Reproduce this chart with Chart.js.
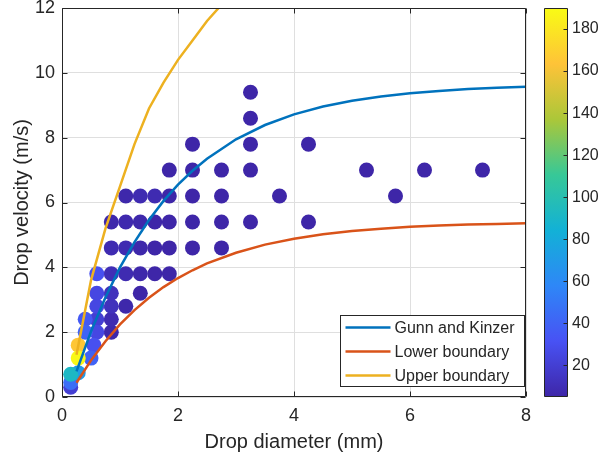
<!DOCTYPE html>
<html>
<head>
<meta charset="utf-8">
<script src="https://cdn.jsdelivr.net/npm/chart.js@4.4.1/dist/chart.umd.min.js"></script>
<style>
  html, body { margin: 0; padding: 0; background: #fff; }
</style>
</head>
<body>
<canvas id="myChart" width="601" height="460"></canvas>
<script>
// scatter: drop diameter (mm), velocity (m/s), number of drops (colour)
const diameter = [
  3.25, 3.25,
  2.25, 3.25, 4.25,
  1.85, 2.25, 2.75, 3.25, 5.25, 6.25, 7.25,
  1.1, 1.35, 1.6, 1.85, 2.25, 2.75, 3.75, 5.75,
  0.85, 1.1, 1.35, 1.6, 1.85, 2.25, 2.75, 3.25, 4.25,
  0.85, 1.1, 1.35, 1.6, 1.85, 2.25, 2.75,
  0.85, 1.1, 1.35, 1.6, 1.85,
  1.35, 1.1, 0.85, 0.85, 0.85, 0.85,
  0.15, 0.6, 0.6, 0.6, 0.6, 0.6, 0.55, 0.4, 0.5, 0.4, 0.15, 0.28, 0.15, 0.28, 0.28
];
const velocity = [
  9.4, 8.6,
  7.8, 7.8, 7.8,
  7.0, 7.0, 7.0, 7.0, 7.0, 7.0, 7.0,
  6.2, 6.2, 6.2, 6.2, 6.2, 6.2, 6.2, 6.2,
  5.4, 5.4, 5.4, 5.4, 5.4, 5.4, 5.4, 5.4, 5.4,
  4.6, 4.6, 4.6, 4.6, 4.6, 4.6, 4.6,
  3.8, 3.8, 3.8, 3.8, 3.8,
  3.2, 2.8, 2.0, 2.4, 2.8, 3.2,
  0.3, 2.4, 2.8, 3.2, 2.0, 3.8, 1.6, 2.4, 1.2, 2.0, 0.45, 0.75, 0.7, 1.6, 1.2
];
const dropCount = [
  3, 3,
  3, 3, 2,
  3, 4, 3, 3, 2, 2, 2,
  6, 8, 8, 4, 4, 3, 2, 2,
  6, 7, 6, 5, 4, 4, 3, 3, 2,
  8, 8, 6, 5, 4, 3, 3,
  10, 8, 6, 5, 4,
  5, 6, 6, 8, 12, 12,
  20, 20, 25, 25, 25, 30, 30, 35, 40, 40, 45, 70, 92, 165, 188
];

// model curves
const lineDiameter = [0.25, 0.5, 0.75, 1, 1.25, 1.5, 1.75, 2, 2.25, 2.5, 3, 3.5, 4, 4.5, 5, 5.5, 6, 6.5, 7, 7.5, 8];
const gunnKinzer = [0.79, 2.02, 3.08, 4.0, 4.78, 5.46, 6.05, 6.55, 6.98, 7.35, 7.95, 8.39, 8.72, 8.96, 9.14, 9.27, 9.37, 9.44, 9.5, 9.54, 9.57];
const lowerBoundary = [0.44, 1.13, 1.72, 2.24, 2.68, 3.06, 3.39, 3.67, 3.91, 4.12, 4.45, 4.7, 4.88, 5.02, 5.12, 5.19, 5.25, 5.29, 5.32, 5.34, 5.36];
const upperBoundary = [1.3, 3.6, 5.2, 6.5, 7.8, 8.9, 9.7, 10.4, 11.0, 11.6, 12.6, 13.4, 14.0, 14.4, 14.7, 14.9, 15.0, 15.1, 15.2, 15.25, 15.3];

const xTicks = [0, 2, 4, 6, 8];
const yTicks = [0, 2, 4, 6, 8, 10, 12];
const colorTicks = [20, 40, 60, 80, 100, 120, 140, 160, 180];
const colorLimits = [5, 190];

const FONT = '"Liberation Sans", Arial, Helvetica, sans-serif';
const axisColor = '#262626';

// parula colormap
const parulaStops = [
  [62, 38, 168], [72, 82, 244], [46, 135, 247], [18, 177, 214],
  [55, 200, 151], [171, 199, 57], [254, 195, 56], [249, 251, 21]
];
function parula(c) {
  let t = (c - colorLimits[0]) / (colorLimits[1] - colorLimits[0]);
  t = Math.min(1, Math.max(0, t)) * (parulaStops.length - 1);
  const i = Math.min(Math.floor(t), parulaStops.length - 2);
  const f = t - i;
  const a = parulaStops[i], b = parulaStops[i + 1];
  const m = k => Math.round(a[k] + (b[k] - a[k]) * f);
  return 'rgb(' + m(0) + ',' + m(1) + ',' + m(2) + ')';
}

const points = diameter.map((d, i) => ({ x: d, y: velocity[i] }));
const pointColors = dropCount.map(parula);

function curve(vals) {
  return lineDiameter.map((d, i) => ({ x: d, y: vals[i] }));
}

// box, inner ticks
const axesBox = {
  id: 'axesBox',
  afterDatasetsDraw(chart) {
    const ctx = chart.ctx;
    const a = chart.chartArea;
    const sx = chart.scales.x, sy = chart.scales.y;
    const L = Math.round(a.left) + 0.5, R = Math.round(a.right) - 0.5;
    const T = Math.round(a.top) + 0.5, B = Math.round(a.bottom) - 0.5;
    ctx.save();
    ctx.strokeStyle = axisColor;
    ctx.lineWidth = 1;
    ctx.beginPath();
    ctx.rect(L, T, R - L, B - T);
    xTicks.forEach(v => {
      const px = Math.round(sx.getPixelForValue(v)) + 0.5;
      ctx.moveTo(px, B); ctx.lineTo(px, B - 5);
      ctx.moveTo(px, T); ctx.lineTo(px, T + 5);
    });
    yTicks.forEach(v => {
      const py = Math.round(sy.getPixelForValue(v)) + 0.5;
      ctx.moveTo(L, py); ctx.lineTo(L + 5, py);
      ctx.moveTo(R, py); ctx.lineTo(R - 5, py);
    });
    ctx.stroke();
    ctx.restore();
  }
};

// legend inside the axes, lower right
const legendBox = {
  id: 'legendBox',
  afterDatasetsDraw(chart) {
    const ctx = chart.ctx;
    const a = chart.chartArea;
    const items = chart.data.datasets.filter(d => d.type === 'line');
    ctx.save();
    ctx.font = '16px ' + FONT;
    const textW = Math.max(...items.map(d => ctx.measureText(d.label).width));
    const w = Math.round(54 + textW + 10), h = 71;
    const x0 = Math.round(a.right) - 2 - w + 0.5;
    const y0 = Math.round(a.bottom) - 11 - h + 0.5;
    ctx.fillStyle = '#fff';
    ctx.fillRect(x0, y0, w, h);
    ctx.strokeStyle = axisColor;
    ctx.lineWidth = 1;
    ctx.strokeRect(x0, y0, w, h);
    items.forEach((d, i) => {
      const y = y0 + 12 + i * 24;
      ctx.strokeStyle = d.borderColor;
      ctx.lineWidth = d.borderWidth;
      ctx.beginPath();
      ctx.moveTo(x0 + 5, y);
      ctx.lineTo(x0 + 50, y);
      ctx.stroke();
      ctx.fillStyle = axisColor;
      ctx.textBaseline = 'middle';
      ctx.textAlign = 'left';
      ctx.fillText(d.label, x0 + 54, y + 1);
    });
    ctx.restore();
  }
};

// colour bar next to the axes
const colorBar = {
  id: 'colorBar',
  afterDraw(chart) {
    const ctx = chart.ctx;
    const cb = chart.scales.cb;
    const left = Math.round(chart.chartArea.right) + 18 + 0.5;
    const width = 23;
    const top = Math.round(cb.getPixelForValue(colorLimits[1])) + 0.5;
    const bottom = Math.round(cb.getPixelForValue(colorLimits[0])) - 0.5;
    const g = ctx.createLinearGradient(0, bottom, 0, top);
    parulaStops.forEach((c, i) => {
      g.addColorStop(i / (parulaStops.length - 1), 'rgb(' + c.join(',') + ')');
    });
    ctx.save();
    ctx.fillStyle = g;
    ctx.fillRect(left, top, width, bottom - top);
    ctx.strokeStyle = axisColor;
    ctx.lineWidth = 1;
    ctx.beginPath();
    ctx.rect(left, top, width, bottom - top);
    colorTicks.forEach(v => {
      const py = Math.round(cb.getPixelForValue(v)) + 0.5;
      ctx.moveTo(left + width, py);
      ctx.lineTo(left + width - 4, py);
    });
    ctx.stroke();
    ctx.restore();
  }
};

const data = {
  datasets: [
    {
      type: 'line', label: 'Gunn and Kinzer', data: curve(gunnKinzer),
      borderColor: '#0072BD', borderWidth: 2.5, pointRadius: 0, tension: 0, clip: 0
    },
    {
      type: 'line', label: 'Lower boundary', data: curve(lowerBoundary),
      borderColor: '#D95319', borderWidth: 2.5, pointRadius: 0, tension: 0, clip: 0
    },
    {
      type: 'line', label: 'Upper boundary', data: curve(upperBoundary),
      borderColor: '#EDB120', borderWidth: 2.5, pointRadius: 0, tension: 0, clip: 0
    },
    {
      type: 'scatter', label: 'drops', data: points,
      backgroundColor: pointColors, borderWidth: 0,
      pointRadius: 7.5, pointHoverRadius: 7.5
    }
  ]
};

const noPad = s => { s.paddingTop = 0; s.paddingBottom = 0; };

const config = {
  type: 'scatter',
  data: data,
  options: {
    responsive: false,
    animation: false,
    events: [],
    layout: { padding: { top: 8, left: 0, right: 0, bottom: 0 } },
    plugins: { legend: { display: false }, tooltip: { enabled: false } },
    scales: {
      x: {
        type: 'linear', min: 0, max: 8,
        afterBuildTicks: s => { s.ticks = xTicks.map(v => ({ value: v })); },
        afterFit: s => { s.height = 63; },
        grid: { color: '#dfdfdf', drawTicks: false },
        border: { display: false },
        ticks: { color: axisColor, font: { family: FONT, size: 18 }, padding: 8, maxRotation: 0 },
        title: {
          display: true, text: 'Drop diameter (mm)', color: axisColor,
          font: { family: FONT, size: 20 }, padding: { top: 0, bottom: 6 }
        }
      },
      y: {
        type: 'linear', position: 'left', min: 0, max: 12,
        afterBuildTicks: s => { s.ticks = yTicks.map(v => ({ value: v })); },
        afterFit: s => { s.width = 62; noPad(s); },
        grid: { color: '#dfdfdf', drawTicks: false },
        border: { display: false },
        ticks: { color: axisColor, font: { family: FONT, size: 18 }, padding: 7 },
        title: {
          display: true, text: 'Drop velocity (m/s)', color: axisColor,
          font: { family: FONT, size: 20 }, padding: { top: 10, bottom: 0 }
        }
      },
      cb: {
        type: 'linear', position: 'right', min: colorLimits[0], max: colorLimits[1],
        afterBuildTicks: s => { s.ticks = colorTicks.map(v => ({ value: v })); },
        afterFit: s => { s.width = 75; noPad(s); },
        grid: { display: false, drawTicks: false },
        border: { display: false },
        ticks: { color: axisColor, font: { family: FONT, size: 16 }, padding: 46 }
      }
    }
  },
  plugins: [axesBox, legendBox, colorBar]
};

const myChart = new Chart(document.getElementById('myChart'), config);
</script>
</body>
</html>
